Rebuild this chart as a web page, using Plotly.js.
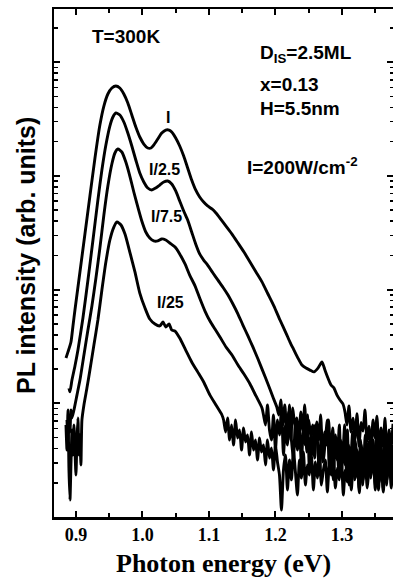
<!DOCTYPE html>
<html>
<head>
<meta charset="utf-8">
<script src="https://cdn.plot.ly/plotly-3.0.1.min.js"></script>
<style>html,body{margin:0;padding:0;background:#fff;}#chart{width:393px;height:580px;}</style>
</head>
<body>
<div id="chart"></div>
<script>
// Photon energy (eV) and PL intensity (arb. units)
var energyI = [0.885,0.888,0.8925,0.8955,0.8985,0.906,0.9135,0.921,0.9286,0.936,0.942,0.948,0.954,0.960,0.966,0.972,0.978,0.984,0.990,0.996,1.002,1.008,1.0128,1.017,1.023,1.029,1.035,1.040,1.044,1.050,1.056,1.062,1.068,1.074,1.080,1.086,1.092,1.098,1.1045,1.1105,1.1165,1.1256,1.1346,1.1436,1.1526,1.1617,1.1707,1.1797,1.1887,1.1977,1.2068,1.2158,1.2218,1.2278,1.2338,1.2398,1.2459,1.2519,1.2579,1.2639,1.2699,1.2744,1.2789,1.2835,1.288,1.2925,1.297,1.3015,
  1.3045,1.3075,1.3105,1.3135,1.3165,1.3195,1.3226,1.3256,1.3286,1.3316,1.3346,1.3376,1.3406,1.3436,1.3466,1.3496,1.3526,1.3556,1.3586,1.3617,1.3647,1.3677,1.3707,1.3737,1.3767];
var intensityI = [25.0,28.3,34.6,47.9,66.2,143,308,666,1437,2803,4119,5253,5932,6177,5932,5253,4378,3433,2692,2199,1908,1760,1760,1870,2111,2384,2533,2533,2433,2154,1832,1496,1174,920,752,652,589,544,512,472,426,362,308,257,214,175,143,117,91.5,71.7,54.0,41.5,34.6,29.4,25.0,21.7,20.4,19.6,18.9,20.4,23.1,19.6,16.7,14.5,13.6,11.8,10.7,9.86,
  8.4,6.44,9.5,5.6,7.4,4.76,8.1,4.2,6.8,5.7,8.73,4.6,6.3,3.7,7.13,4.95,7.7,3.45,6.06,4.2,7.4,3.05,5.82,4.05,6.6];

var energyI2 = [0.8895,0.891,0.894,0.8985,0.903,0.9105,0.918,0.9256,0.933,0.939,0.945,0.951,0.9556,0.960,0.966,0.972,0.978,0.984,0.990,0.996,1.002,1.008,1.014,1.020,1.026,1.032,1.038,1.044,1.050,1.056,1.062,1.068,1.074,1.080,1.086,1.092,1.098,1.106,1.1135,1.121,1.1286,1.136,1.1436,1.151,1.1586,1.166,1.1737,1.181,1.1887,1.196,1.202,
  1.205,1.208,1.211,1.214,1.217,1.220,1.223,1.226,1.229,1.232,1.235,1.238,1.241,1.244,1.247,1.250,1.253,1.256,1.259,1.262,1.265,1.268,1.271,1.274,1.277,1.280,1.283,1.286,1.289,1.292,1.295,1.298,1.301,1.304,1.307,1.310,1.313,1.316,1.319,1.322,1.325,1.328,1.331,1.334,1.337,1.340,1.343,1.346,1.349,1.352,1.355,1.358,1.361,1.364,1.367,1.370,1.373,1.376];
var intensityI2 = [13.6,12.6,16.0,21.3,29.4,56.3,121,273,614,1127,1870,2747,3296,3574,3433,2979,2384,1832,1380,1060,884,783,752,783,831,884,902,849,737,602,491,409,321,252,206,182,164,140,121,105,89.6,74.7,61.0,48.8,39.1,31.3,24.5,19.2,14.8,11.4,9.28,
  7.89,10.7,6.44,9.66,5.82,8.4,4.76,9.1,6.44,7.43,4.30,8.4,5.82,9.66,3.73,7.13,5.26,6.44,3.30,6.85,4.76,7.89,3.05,5.59,4.30,7.13,2.87,6.06,3.88,4.95,2.59,4.76,3.51,6.44,2.34,4.30,3.17,5.59,2.12,3.88,2.70,4.76,1.91,3.73,2.59,4.57,2.20,3.88,3.05,5.26,1.73,3.51,2.49,4.76,1.91,4.05,2.34,4.30];

var energyI75 = [0.8865,0.888,0.8895,0.891,0.8925,0.894,0.897,0.9015,0.906,0.912,0.918,0.924,0.930,0.936,0.942,0.948,0.954,0.9586,0.963,0.969,0.975,0.981,0.987,0.993,0.999,1.005,1.011,1.017,1.023,1.029,1.035,1.041,1.049,1.056,1.064,1.071,1.079,1.086,1.094,1.1015,1.109,1.1165,1.1256,1.1346,1.1436,1.1526,1.1617,1.1707,1.1797,
  1.182,1.185,1.188,1.191,1.194,1.197,1.200,1.203,1.206,1.209,1.212,1.215,1.218,1.221,1.224,1.227,1.230,1.233,1.236,1.239,1.242,1.245,1.248,1.251,1.254,1.257,1.260,1.263,1.266,1.269,1.272,1.275,1.278,1.281,1.284,1.287,1.290,1.293,1.296,1.299,1.302,1.305,1.308,1.311,1.314,1.317,1.320,1.323,1.326,1.329,1.332,1.335,1.338,1.341,1.344,1.347,1.350,1.353,1.356,1.359,1.362,1.365,1.368,1.371,1.374,1.376];
var intensityI75 = [7.13,4.76,7.89,5.59,8.73,7.43,8.73,11.8,16.0,26.6,44.1,71.7,126,232,453,815,1273,1590,1724,1623,1325,998,722,533,401,321,284,268,268,279,273,257,237,206,168,134,108,84.4,64.8,52.9,45.0,38.3,31.3,26.6,21.7,18.1,14.8,11.6,9.09,
  7.89,6.44,9.66,5.82,4.76,7.89,3.88,7.13,5.26,8.73,3.51,6.44,4.30,9.66,4.76,3.17,7.13,3.88,5.82,2.87,6.44,4.30,7.89,2.59,5.26,3.51,6.44,4.76,2.34,5.82,3.17,4.76,7.13,2.59,4.30,2.12,5.26,3.17,6.44,2.34,4.30,2.87,5.82,1.91,3.88,2.59,4.76,3.17,1.73,4.30,2.59,5.26,2.12,3.51,2.87,4.76,1.91,3.88,2.34,4.30,1.73,3.17,2.59,4.76,2.12,3.51];

var energyI25 = [0.885,0.8865,0.888,0.8895,0.891,0.8925,0.894,0.8955,0.897,0.8985,0.900,0.9015,0.903,0.9045,0.906,0.9075,0.909,0.912,0.9165,0.921,0.927,0.933,0.939,0.945,0.951,0.957,0.9617,0.9677,0.9737,0.981,0.9887,0.996,1.0038,1.011,1.0188,1.026,1.031,1.035,1.040,1.044,1.049,1.056,1.065,1.074,1.083,1.092,1.1015,1.1105,1.1195,
  1.122,1.125,1.128,1.131,1.134,1.137,1.140,1.143,1.146,1.149,1.152,1.155,1.158,1.161,1.164,1.167,1.170,1.173,1.176,1.179,1.182,1.185,1.188,1.191,1.194,1.197,1.200,1.203,1.206,1.209,1.212,1.215,1.218,1.221,1.224,1.227,1.230,1.233,1.236,1.239,1.242,1.245,1.248,1.251,1.254,1.257,1.260,1.263,1.266,1.269,1.272,1.275,1.278,1.281,1.284,1.287,1.290,1.293,1.296,1.299,1.302,1.305,1.308,1.311,1.314,1.317,1.320,1.323,1.326,1.329,1.332,1.335,1.338,1.341,1.344,1.347,1.350,1.353,1.356,1.359,1.362,1.365,1.368,1.371,1.374,1.376];
var intensityI25 = [6.44,3.88,8.73,2.59,1.41,2.87,5.82,3.51,6.44,3.88,2.34,4.76,7.43,3.51,5.26,2.87,7.13,9.66,13.6,19.6,32.6,54.0,99.2,175,273,355,393,370,308,214,143,93.3,68.9,55.1,49.8,47.9,51.9,46.9,49.8,44.1,43.2,37.5,29.4,23.1,18.9,15.4,11.8,9.66,7.89,
  7.13,5.59,7.43,4.76,6.44,4.30,7.13,4.95,5.82,3.88,6.06,4.57,5.26,3.51,5.59,3.88,4.76,3.17,4.95,3.73,4.30,2.87,4.76,3.30,4.05,2.59,4.30,3.05,2.34,1.15,2.59,3.51,1.73,3.17,2.12,3.88,2.49,1.56,3.17,2.20,3.73,1.91,2.87,2.34,3.51,1.73,3.05,2.20,3.88,1.91,2.59,3.17,1.66,2.87,2.34,3.51,1.80,2.70,2.12,3.30,1.56,2.59,2.03,3.17,1.73,2.87,2.20,3.51,1.63,2.59,2.12,3.05,1.80,2.70,2.34,3.51,1.73,2.81,2.03,3.17,1.66,2.59,2.12,3.30,1.80,2.59];

var xTickVals = [0.9,1.0,1.1,1.2,1.3];
var xTickText = ['0.9','1.0','1.1','1.2','1.3'];
var xMinorVals = [0.95,1.05,1.15,1.25,1.35];
var yTickVals = [1,10,100,1000,10000];
var yMinorVals = [2,3,4,5,6,7,8,9,20,30,40,50,60,70,80,90,200,300,400,500,600,700,800,900,2000,3000,4000,5000,6000,7000,8000,9000,20000];

var lineStyle = {color:'#000', width:2.9, shape:'spline', smoothing:0.6};
function tr(x,y){ return {x:x, y:y, type:'scatter', mode:'lines', line:lineStyle, hoverinfo:'skip'}; }
var data = [tr(energyI,intensityI), tr(energyI2,intensityI2), tr(energyI75,intensityI75), tr(energyI25,intensityI25)];

var sansFamily = 'Liberation Sans, Arial, sans-serif';
function ann(text,x,y,xa,size){ return {text:text, x:x, y:y, xref:'paper', yref:'paper', xanchor:xa||'center', yanchor:'middle', showarrow:false, font:{family:sansFamily, size:size||18, color:'#000', weight:'bold'}}; }

var layout = {
  width:393, height:580,
  margin:{l:54, r:0, t:9, b:63},
  paper_bgcolor:'#fff', plot_bgcolor:'#fff',
  showlegend:false,
  xaxis:{range:[0.867,1.3767], showline:true, linewidth:2.5, linecolor:'#000', mirror:'ticks',
    ticks:'inside', ticklen:6, tickwidth:2, tickcolor:'#000',
    tickvals:xTickVals, ticktext:xTickText,
    tickfont:{family:'Liberation Serif, Times New Roman, serif', size:18, color:'#000', weight:'bold'},
    showgrid:false, zeroline:false,
    minor:{tickvals:xMinorVals, ticks:'inside', ticklen:4, tickwidth:2, tickcolor:'#000', showgrid:false}},
  yaxis:{type:'log', range:[0,4.468], showline:true, linewidth:2.5, linecolor:'#000', mirror:'ticks',
    ticks:'inside', ticklen:6, tickwidth:2, tickcolor:'#000',
    tickvals:yTickVals, showticklabels:false, showgrid:false, zeroline:false,
    minor:{tickvals:yMinorVals, ticks:'inside', ticklen:3.5, tickwidth:1.5, tickcolor:'#000', showgrid:false}},
  annotations:[
    {text:'Photon energy (eV)', x:0.5, y:-0.0906, xref:'paper', yref:'paper', xanchor:'center', yanchor:'middle', showarrow:false,
      font:{family:'Liberation Serif, Times New Roman, serif', size:26, color:'#000', weight:'bold'}},
    {text:'PL intensity (arb. units)', x:-0.0826, y:0.5157, xref:'paper', yref:'paper', xanchor:'center', yanchor:'middle', textangle:-90, showarrow:false,
      font:{family:sansFamily, size:25, color:'#000', weight:'bold'}},
    ann('T=300K',0.2124,0.9449,'center',19),
    ann('D<sub>IS</sub>=2.5ML',0.6018,0.9114,'left',19),
    ann('x=0.13',0.6018,0.8504,'left',19),
    ann('H=5.5nm',0.6018,0.8051,'left',19),
    ann('I=200W/cm<sup>-2</sup>',0.5634,0.6900,'left',19),
    ann('I',0.3363,0.7874,'center',16),
    ann('I/2.5',0.3274,0.6831,'center',16),
    ann('I/7.5',0.3333,0.5906,'center',16),
    ann('I/25',0.3422,0.4213,'center',16)
  ]
};
Plotly.newPlot('chart', data, layout, {staticPlot:true, displayModeBar:false});
</script>
</body>
</html>
